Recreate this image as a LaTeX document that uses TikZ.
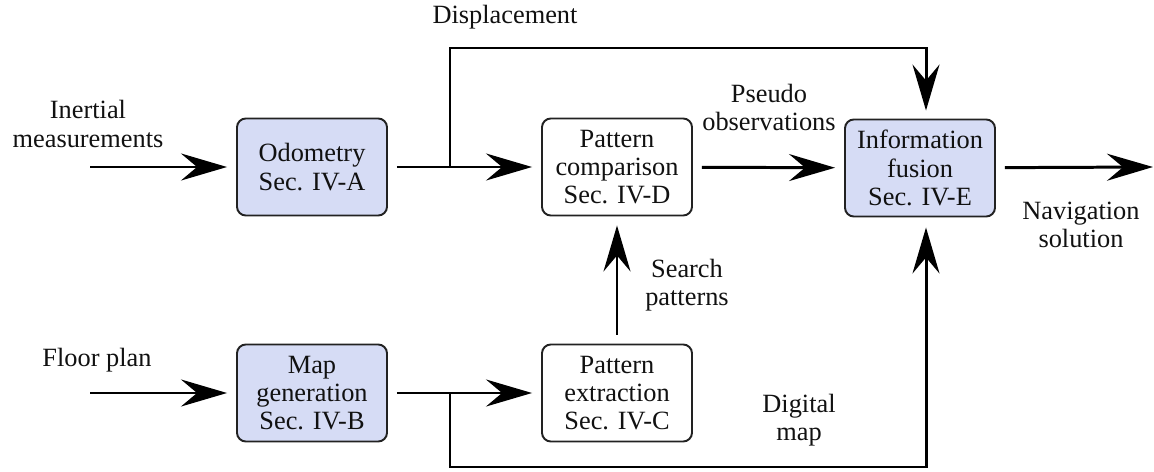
\documentclass[tikz,border=0pt]{standalone}
\usepackage{fontspec}
\setmainfont{Liberation Serif}
\usepackage{tikz}
\usetikzlibrary{arrows.meta,positioning,calc}
\definecolor{NavFill}{HTML}{D6DCF5}
\definecolor{NavInk}{HTML}{111111}
\definecolor{NavEdge}{HTML}{222222}
\tikzset{
  navlabel/.style={font=\fontsize{15}{16}\selectfont, text=NavInk, align=center},
  navbox/.style={navlabel, draw=NavEdge, line width=1.1pt, rounded corners=5pt, fill=white,
    minimum width=3cm, minimum height=1.94cm, inner sep=2pt},
  procbox/.style={navbox, fill=NavFill},
  navline/.style={line width=1.7pt, draw=black},
  navflow/.style={navline, -{Stealth[length=0.92cm, width=0.54cm, inset=0.32cm]},
    shorten >=0.18cm, shorten <=0.18cm}
}

\begin{document}
\begin{tikzpicture}[every node/.style={navlabel}]
\useasboundingbox (0,0) rectangle (23.08,-9.44);
% processing blocks
\node[procbox] (odo) at (6.24,-3.34) {Odometry\\Sec. IV-A};
\node[procbox] (mapgen) at (6.24,-7.86) {Map\\generation\\Sec. IV-B};
\node[navbox] (comp) at (12.34,-3.34) {Pattern\\comparison\\Sec. IV-D};
\node[navbox] (extr) at (12.34,-7.86) {Pattern\\extraction\\Sec. IV-C};
\node[procbox] (fusion) at (18.4,-3.36) {Information\\fusion\\Sec. IV-E};
% free ends and branch points
\coordinate (imu) at (1.8,-3.34);
\coordinate (plan) at (1.8,-7.86);
\coordinate (navout) at (23.06,-3.34);
\coordinate (splitA) at (9,-3.34);
\coordinate (splitB) at (9,-7.86);
\coordinate (cornerA) at (18.52,-0.96);
\coordinate (cornerB) at (18.52,-9.34);
% connectors
\draw[navflow, shorten <=0pt] (imu) -- (odo);
\draw[navflow, shorten <=0pt] (plan) -- (mapgen);
\draw[navflow] (odo) -- (comp);
\draw[navflow] (mapgen) -- (extr);
\draw[navflow] (comp) -- (fusion);
\draw[navflow] (extr) -- (comp);
\draw[navflow, shorten >=0pt] (fusion) -- (navout);
\draw[navflow, shorten <=0pt, shorten >=0.16cm] (splitA) |- (cornerA) -- (cornerA |- fusion.north);
\draw[navflow, shorten <=0pt, shorten >=0.2cm] (splitB) |- (cornerB) -- (cornerB |- fusion.south);
% labels
\node (lblimu) at (1.76,-2.48) {Inertial\\measurements};
\node (lblplan) at (1.94,-7.2) {Floor plan};
\node (lbldisp) at (10.1,-0.34) {Displacement};
\node (lblpseudo) at (15.38,-2.15) {Pseudo\\observations};
\node (lblsearch) at (13.74,-5.7) {Search\\patterns};
\node (lbldigital) at (15.98,-8.4) {Digital\\map};
\node (lblnav) at (21.62,-4.5) {Navigation\\solution};
\end{tikzpicture}
\end{document}
